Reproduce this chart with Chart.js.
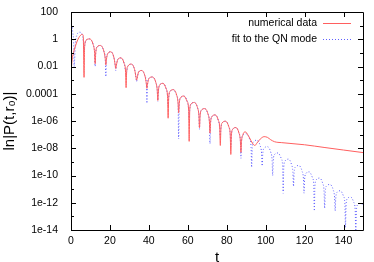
<!DOCTYPE html>
<html>
<head>
<meta charset="utf-8">
<script src="https://cdn.jsdelivr.net/npm/chart.js@4/dist/chart.umd.min.js"></script>
<style>
  html, body { margin: 0; padding: 0; background: #fff; }
  canvas { display: block; }
</style>
</head>
<body>
<canvas id="chart-qnm" width="374" height="262"></canvas>
<script>
// numerical data (red)
const tNum = [
  0, 0.5, 1, 1.35, 1.6, 2.3, 3, 4, 5, 5.7, 6.3, 6.7,
  7, 7.7, 9.55, 11.4, 12.1, 12.4,
  12.7, 13.4, 15.15, 16.9, 17.6, 17.9,
  18.2, 18.9, 20.45, 22, 22.7, 23,
  23.3, 24, 25.65, 27.3, 28, 28.3,
  28.6, 29.3, 31, 32.7, 33.4, 33.7,
  34, 34.7, 36.35, 38, 38.7, 39,
  39.3, 40, 41.8, 43.6, 44.3, 44.6,
  44.9, 45.6, 47.25, 48.9, 49.6, 49.9,
  50.2, 50.9, 52.6, 54.3, 55, 55.3,
  55.6, 56.3, 58, 59.7, 60.4, 60.7,
  61, 61.7, 63.35, 65, 65.7, 66,
  66.3, 67, 68.7, 70.4, 71.1, 71.4,
  71.7, 72.4, 74.05, 75.7, 76.4, 76.7,
  77, 77.7, 79.4, 81.1, 81.8, 82.1,
  82.4, 83.1, 84.7, 86.3, 87, 87.3,
  87.6, 88.3, 89.5, 91, 92.5, 93.8, 94.5, 95.5, 97.2, 99.2,
  100.9, 102.6, 104.6, 106.3, 108, 112, 120, 130, 140, 150
];
const numVals = [
  3.2e-3, 2.5e-2, 7.1e-2, 0.11, 0.16, 0.32, 0.63, 1.3, 2.0, 2.3, 1.8, 1.6e-3,
  0.30, 0.83, 1.06, 0.40, 0.11, 0.016,
  0.098, 0.27, 0.35, 0.13, 0.037, 0.013,
  0.033, 0.089, 0.12, 0.049, 0.013, 0.0071,
  0.012, 0.032, 0.043, 0.017, 0.0047, 2.8e-4,
  0.0042, 0.011, 0.015, 0.0058, 0.0016, 1.0e-3,
  0.0014, 0.0039, 0.0051, 0.0020, 5.5e-4, 2.5e-4,
  4.9e-4, 1.3e-3, 1.7e-3, 6.6e-4, 1.8e-4, 3.2e-5,
  1.6e-4, 4.5e-4, 5.8e-4, 2.3e-4, 6.3e-5, 1.6e-6,
  5.6e-5, 1.5e-4, 2.0e-4, 7.8e-5, 2.1e-5, 4.0e-6,
  1.9e-5, 5.2e-5, 6.8e-5, 2.7e-5, 7.4e-6, 3.2e-8,
  6.5e-6, 1.8e-5, 2.3e-5, 9.3e-6, 2.6e-6, 3.2e-7,
  2.3e-6, 6.2e-6, 8.1e-6, 3.2e-6, 8.7e-7, 1.3e-7,
  7.8e-7, 2.1e-6, 2.8e-6, 1.1e-6, 3.0e-7, 1.6e-8,
  2.7e-7, 7.4e-7, 9.6e-7, 3.7e-7, 1.0e-7, 3.5e-9,
  9.1e-8, 2.5e-7, 3.3e-7, 1.3e-7, 3.6e-8, 5.0e-9,
  3.2e-8, 1.0e-7, 1.6e-7, 8.9e-8, 3.5e-8, 1.8e-8, 1.6e-8, 2.4e-8, 4.7e-8, 7.1e-8,
  6.3e-8, 4.2e-8, 3.0e-8, 2.7e-8, 2.6e-8, 2.3e-8, 1.8e-8, 1.15e-8, 7.4e-9, 4.8e-9
];

// fit to the QN mode (blue, dotted)
const tFit = [
  0, 0.5, 1, 1.35, 1.6, 2.3, 3, 4, 5, 5.7, 6.3, 6.7,
  7, 7.7, 9.55, 11.4, 12.1, 12.4,
  12.7, 13.4, 15.15, 16.9, 17.6, 17.9,
  18.2, 18.9, 20.45, 22, 22.7, 23,
  23.3, 24, 25.65, 27.3, 28, 28.3,
  28.6, 29.3, 31, 32.7, 33.4, 33.7,
  34, 34.7, 36.35, 38, 38.7, 39,
  39.3, 40, 41.8, 43.6, 44.3, 44.6,
  44.9, 45.6, 47.25, 48.9, 49.6, 49.9,
  50.2, 50.9, 52.6, 54.3, 55, 55.3,
  55.6, 56.3, 58, 59.7, 60.4, 60.7,
  61, 61.7, 63.35, 65, 65.7, 66,
  66.3, 67, 68.7, 70.4, 71.1, 71.4,
  71.7, 72.4, 74.05, 75.7, 76.4, 76.7,
  77, 77.7, 79.4, 81.1, 81.8, 82.1,
  82.4, 83.1, 84.7, 86.3, 87, 87.3,
  87.6, 88.3, 90.05, 91.8, 92.5, 92.8,
  93.1, 93.8, 95.5, 97.2, 97.9, 98.2,
  98.5, 99.2, 100.9, 102.6, 103.3, 103.6,
  103.9, 104.6, 106.3, 108, 108.7, 109,
  109.3, 110, 111.65, 113.3, 114, 114.3,
  114.6, 115.3, 117, 118.7, 119.4, 119.7,
  120, 120.7, 122.35, 124, 124.7, 125,
  125.3, 126, 127.65, 129.3, 130, 130.3,
  130.6, 131.3, 133, 134.7, 135.4, 135.7,
  136, 136.7, 138.35, 140, 140.7, 141,
  141.3, 142, 143.65, 145.3, 146, 146.3,
  146.6, 147.3, 149, 150
];
const fitVals = [
  11.2, 8.9, 2.5, 0.63, 0.01, 0.63, 2.0, 3.3, 3.2, 2.2, 0.79, 0.16,
  0.30, 0.83, 1.06, 0.40, 0.11, 0.010,
  0.098, 0.27, 0.35, 0.13, 0.037, 0.0018,
  0.033, 0.089, 0.12, 0.049, 0.013, 0.005,
  0.012, 0.032, 0.043, 0.017, 0.0047, 0.0025,
  0.0042, 0.011, 0.015, 0.0058, 0.0016, 7.9e-4,
  0.0014, 0.0039, 0.0051, 0.0020, 5.5e-4, 2.0e-5,
  4.9e-4, 1.3e-3, 1.7e-3, 6.6e-4, 1.8e-4, 2.5e-5,
  1.6e-4, 4.5e-4, 5.8e-4, 2.3e-4, 6.3e-5, 1.3e-5,
  5.6e-5, 1.5e-4, 2.0e-4, 7.8e-5, 2.1e-5, 5.0e-8,
  1.9e-5, 5.2e-5, 6.8e-5, 2.7e-5, 7.4e-6, 1.3e-6,
  6.5e-6, 1.8e-5, 2.3e-5, 9.3e-6, 2.6e-6, 2.5e-7,
  2.3e-6, 6.2e-6, 8.1e-6, 3.2e-6, 8.7e-7, 2.2e-8,
  7.8e-7, 2.1e-6, 2.8e-6, 1.1e-6, 3.0e-7, 6.3e-8,
  2.7e-7, 7.4e-7, 9.6e-7, 3.7e-7, 1.0e-7, 1.3e-8,
  9.1e-8, 2.5e-7, 3.3e-7, 1.3e-7, 3.6e-8, 1.8e-9,
  3.2e-8, 8.9e-8, 1.15e-7, 4.5e-8, 1.2e-8, 4.0e-10,
  1.1e-8, 3.0e-8, 3.9e-8, 1.5e-8, 4.2e-9, 5.0e-10,
  3.7e-9, 1.0e-8, 1.3e-8, 5.1e-9, 1.4e-9, 1.0e-10,
  1.26e-9, 3.5e-9, 4.5e-9, 1.8e-9, 4.9e-10, 5.0e-12,
  4.4e-10, 1.2e-9, 1.6e-9, 6.2e-10, 1.7e-10, 1.6e-11,
  1.5e-10, 4.2e-10, 5.4e-10, 2.1e-10, 5.8e-11, 5.0e-12,
  5.1e-11, 1.4e-10, 1.85e-10, 7.2e-11, 2.0e-11, 2.5e-13,
  1.8e-11, 4.9e-11, 6.5e-11, 2.6e-11, 6.9e-12, 4.0e-13,
  6.2e-12, 1.7e-11, 2.2e-11, 8.7e-12, 2.4e-12, 2.5e-13,
  2.1e-12, 5.9e-12, 7.6e-12, 3.0e-12, 8.3e-13, 1.6e-14,
  7.4e-13, 2.0e-12, 2.65e-12, 1.05e-12, 2.9e-13, 5.0e-15,
  2.6e-13, 7.1e-13, 9.1e-13, 6.3e-13
];

// ticks
const xTickValues = [0, 20, 40, 60, 80, 100, 120, 140];
const yTickValues = [1e-14, 1e-12, 1e-10, 1e-8, 1e-6, 1e-4, 1e-2, 1, 100];
const yTickLabels = ['1e-14', '1e-12', '1e-10', '1e-08', '1e-06', '0.0001', '0.01', '1', '100'];
const yMinorValues = [1e-13, 1e-11, 1e-9, 1e-7, 1e-5, 1e-3, 0.1, 10];

const FONT = '"Liberation Sans", Arial, sans-serif';
Chart.defaults.font.family = FONT;
Chart.defaults.color = '#000';

const toPts = (xs, ys) => xs.map((x, i) => ({ x: x, y: ys[i] }));

// gnuplot style frame with inward ticks on all four sides + key
const framePlugin = {
  id: 'frame',
  afterDraw(chart) {
    const { ctx, chartArea: a, scales } = chart;
    const xs = scales.x, ys = scales.y;
    ctx.save();
    ctx.strokeStyle = '#000';
    ctx.lineWidth = 1;
    ctx.beginPath();
    ctx.rect(Math.round(a.left) + 0.5, Math.round(a.top) + 0.5,
             Math.round(a.right - a.left), Math.round(a.bottom - a.top));
    ctx.stroke();

    ctx.beginPath();
    xTickValues.forEach(v => {
      const px = Math.round(xs.getPixelForValue(v)) + 0.5;
      ctx.moveTo(px, a.bottom); ctx.lineTo(px, a.bottom - 5);
      ctx.moveTo(px, a.top); ctx.lineTo(px, a.top + 5);
    });
    yTickValues.forEach(v => {
      const py = Math.round(ys.getPixelForValue(v)) + 0.5;
      ctx.moveTo(a.left, py); ctx.lineTo(a.left + 5, py);
      ctx.moveTo(a.right, py); ctx.lineTo(a.right - 5, py);
    });
    yMinorValues.forEach(v => {
      const py = Math.round(ys.getPixelForValue(v)) + 0.5;
      ctx.moveTo(a.left, py); ctx.lineTo(a.left + 3, py);
      ctx.moveTo(a.right, py); ctx.lineTo(a.right - 3, py);
    });
    ctx.stroke();

    // key
    ctx.font = '10.5px ' + FONT;
    ctx.fillStyle = '#000';
    ctx.textAlign = 'right';
    ctx.textBaseline = 'middle';
    chart.data.datasets.forEach((ds, i) => {
      const y = 23.5 + i * 16;
      ctx.fillText(ds.label, 317, y);
      ctx.strokeStyle = ds.borderColor;
      ctx.lineWidth = ds.borderWidth;
      ctx.setLineDash(ds.borderDash || []);
      ctx.beginPath();
      ctx.moveTo(323, y); ctx.lineTo(351, y);
      ctx.stroke();
    });
    ctx.restore();
  }
};

new Chart(document.getElementById('chart-qnm'), {
  type: 'line',
  data: {
    datasets: [
      {
        label: 'numerical data',
        data: toPts(tNum, numVals),
        borderColor: 'rgb(255, 95, 95)',
        borderWidth: 1,
        pointRadius: 0,
        cubicInterpolationMode: 'monotone'
      },
      {
        label: 'fit to the QN mode',
        data: toPts(tFit, fitVals),
        borderColor: 'rgb(95, 95, 255)',
        borderWidth: 1,
        borderDash: [1, 2],
        pointRadius: 0,
        cubicInterpolationMode: 'monotone'
      }
    ]
  },
  options: {
    responsive: false,
    animation: false,
    devicePixelRatio: 1,
    layout: { padding: { top: 12, right: 11, left: 0, bottom: 0 } },
    plugins: { legend: { display: false }, tooltip: { enabled: false } },
    scales: {
      x: {
        type: 'linear',
        min: 0,
        max: 150,
        grid: { display: false, drawTicks: false, tickLength: 0 },
        border: { display: false },
        afterBuildTicks: s => { s.ticks = xTickValues.map(v => ({ value: v })); },
        afterFit: s => { s.height = 32; },
        ticks: { font: { size: 10.5 }, padding: 5, maxRotation: 0, autoSkip: false },
        title: { display: true, text: 't', font: { size: 15, lineHeight: 1 }, padding: { top: 0, bottom: -3 } }
      },
      y: {
        type: 'logarithmic',
        min: 1e-14,
        max: 100,
        grid: { display: false },
        border: { display: false },
        afterBuildTicks: s => { s.ticks = yTickValues.map(v => ({ value: v })); },
        afterFit: s => { s.width = 71; },
        ticks: {
          font: { size: 10.5 },
          padding: 5,
          autoSkip: false,
          callback: (v, i) => yTickLabels[i]
        },
        title: { display: true, text: 'ln|P(t,r₀)|', font: { size: 15 }, padding: { top: 1, bottom: 0 } }
      }
    }
  },
  plugins: [framePlugin]
});
</script>
</body>
</html>
